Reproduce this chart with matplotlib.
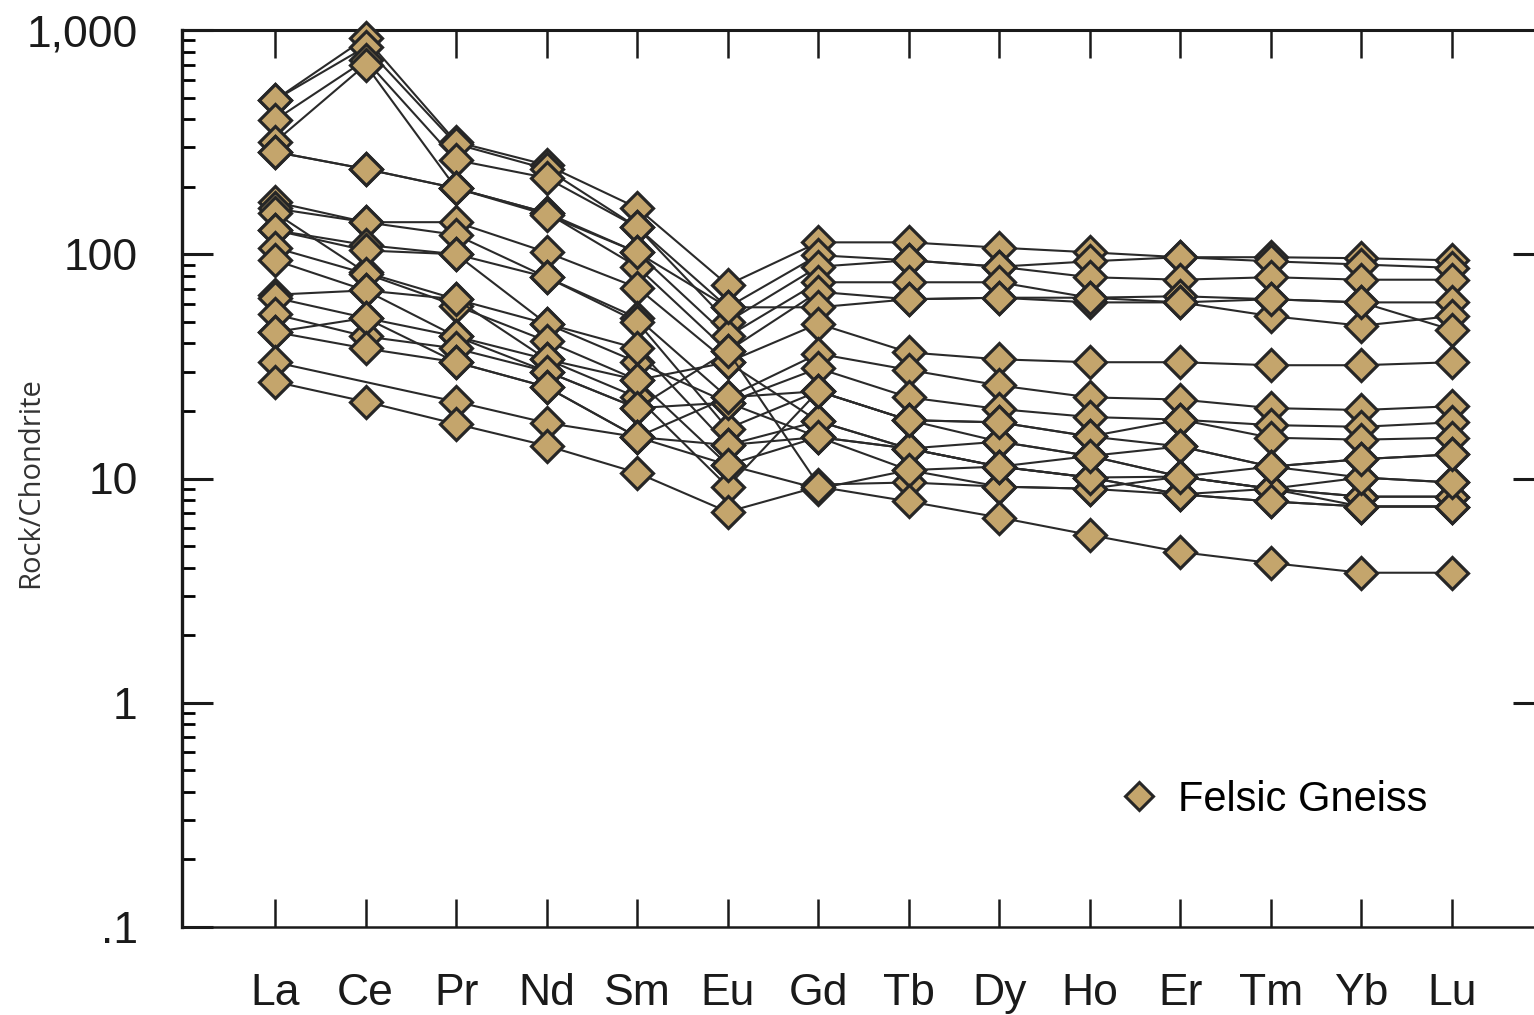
import numpy as np
import matplotlib
matplotlib.use("Agg")
import matplotlib.pyplot as plt
from matplotlib.lines import Line2D
from matplotlib.ticker import FixedLocator, LogLocator, NullFormatter, FixedFormatter, NullLocator

# Rare earth elements in order of atomic number
elements = ["La", "Ce", "Pr", "Nd", "Sm", "Eu", "Gd", "Tb", "Dy", "Ho", "Er", "Tm", "Yb", "Lu"]

# Decade labels for the log axis
y_ticks = [0.1, 1, 10, 100, 1000]
y_tick_labels = [".1", "1", "10", "100", "1,000"]

nan = np.nan

# Chondrite-normalised REE patterns of the felsic gneiss samples
fg01 = [488, 920, 317, 250, 161, 73, 113, 113, 107, 102, 97, 97, 96, 94]
fg02 = [488, 840, 310, 240, 132, 58, 99, 94, 88, 93, 97, 93, 90, 87]
fg03 = [397, 735, 263, 219, 132, 50, 88, 94, 88, 79, 77, 79, 77, 77]
fg04 = [317, 700, 197, 153, 102, 43, 75, 75, 75, 64, 65, 63, 61, 61]
fg05 = [286, 240, 197, 153, 88, 37, 68, 63, 64, 61, 61, 53, 48, 53]
fg06 = [286, 240, 197, 150, 102, 58, 58, 63, 64, 64, 61, 63, 61, 46]
fg07 = [171, 139, 139, 102, 71, 33, 49, 36.5, 34, 33, 33, 32, 32, 33]
fg08 = [160, 139, 122, 79, 52, 23, 36, 30.5, 26, 23, 22.5, 20.6, 20.2, 21]
fg09 = [153, 83, 63, 49, 33, 21.8, 31, 23, 20.4, 18.8, 18.3, 17.3, 17, 17.8]
fg10 = [128, 110, 100, 79, 50, 16.7, 24.5, 18.2, 17.8, 15.4, 18.3, 15.2, 14.9, 15.2]
fg11 = [128, 104, 100, 49, 38, 14.1, 18, 13.6, 14.6, 12.6, 13.9, 11.3, 12.2, 12.8]
fg12 = [107, 82, 59, 41, 27.5, 11.5, 15.3, 13.6, 11.3, 10.1, 10.2, 9.0, 10.1, 9.6]
fg13 = [94, 69, 63, 34, 23, 9.2, 24.5, 18.2, 14.6, 12.6, 10.2, 9.0, 8.3, 8.3]
fg14 = [66, 69, 43, 30, 20.6, 21.8, 15.3, 10.9, 9.2, 9.0, 8.5, 7.9, 7.5, 7.5]
fg15 = [64, 52, 43, 34, 27.5, 33, 18, 13.6, 11.3, 10.1, 8.5, 9.0, 8.3, 8.3]
fg16 = [54, 43, 38, 30, 20.6, 37, 9.4, 9.6, 9.2, 9.0, 10.2, 9.0, 7.5, 7.5]
fg17 = [45, 52, 33, 25.6, 15.3, 14.1, 15.3, 13.6, 11.3, 10.1, 8.5, 7.9, 7.5, 7.5]
fg18 = [45, 38, 33, 25.6, 15.3, 23, 24.5, 18.2, 17.8, 15.4, 13.9, 11.3, 10.1, 9.6]
fg19 = [33, nan, 22, 17.7, 15.3, 11.5, 9.0, 10.9, 11.3, 12.6, 10.2, 11.3, 12.2, 12.8]
fg20 = [27, 22, 17.5, 14, 10.6, 7.1, 9.2, 7.9, 6.7, 5.6, 4.7, 4.2, 3.8, 3.8]

samples = [fg01, fg02, fg03, fg04, fg05, fg06, fg07, fg08, fg09, fg10,
           fg11, fg12, fg13, fg14, fg15, fg16, fg17, fg18, fg19, fg20]

face = "#c4a56c"
edge = "#262626"
line_col = "#2a2a2a"

W, H = 1534, 1015
fig = plt.figure(figsize=(W / 100, H / 100), dpi=100)
left_px, right_px, top_px, bottom_px = 182, 1545, 30, 927
ax = fig.add_axes([left_px / W, 1 - bottom_px / H,
                   (right_px - left_px) / W, (bottom_px - top_px) / H])

x = np.arange(len(elements))
for s in samples:
    v = np.asarray(s, dtype=float)
    ok = ~np.isnan(v)
    ax.plot(x[ok], v[ok], color=line_col, lw=1.5, marker="D", ms=16, clip_on=False,
            mfc=face, mec=edge, mew=2.3, zorder=3)

ax.set_yscale("log")
ax.set_ylim(0.1, 1000)
pad_l = (275 - left_px) / 90.54
ax.set_xlim(-pad_l, 13 + (right_px - 1452) / 90.54)

# y axis: decade labels, log minor ticks on the left side
ax.yaxis.set_major_locator(FixedLocator(y_ticks))
ax.yaxis.set_major_formatter(FixedFormatter(y_tick_labels))
ax.yaxis.set_minor_locator(LogLocator(base=10, subs=np.arange(2, 10)))
ax.yaxis.set_minor_formatter(NullFormatter())
ax.tick_params(axis="y", which="major", direction="in", length=22, width=2.2,
               left=True, right=False, pad=32, labelsize=32, colors="#1a1a1a")
ax.tick_params(axis="y", which="minor", direction="in", length=9, width=2.0,
               left=True, right=False)

# x axis: element ticks on top and bottom, pointing inward
ax.set_xticks(x)
ax.set_xticklabels(elements)
ax.xaxis.set_minor_locator(NullLocator())
ax.tick_params(axis="x", which="major", direction="in", length=20, width=1.8,
               top=True, bottom=True, pad=33, labelsize=32, colors="#1a1a1a")

for lab in ax.get_xticklabels() + ax.get_yticklabels():
    lab.set_fontfamily("Liberation Sans")

for side, lw in (("left", 2.4), ("top", 2.2), ("bottom", 1.8), ("right", 2.2)):
    ax.spines[side].set_linewidth(lw)
    ax.spines[side].set_color("#1a1a1a")

# decade ticks along the right-hand side
ax_r = ax.twinx()
ax_r.set_yscale("log")
ax_r.set_ylim(0.1, 1000)
ax_r.yaxis.set_major_locator(FixedLocator([1, 10, 100]))
ax_r.yaxis.set_minor_locator(NullLocator())
ax_r.yaxis.set_major_formatter(NullFormatter())
ax_r.tick_params(axis="y", which="major", direction="in", length=23, width=2.2,
                 right=True, left=False, colors="#1a1a1a")
for sp in ax_r.spines.values():
    sp.set_visible(False)

fig.text(31 / W, 1 - 483 / H, "Rock/Chondrite", rotation=90, ha="center", va="center",
         fontsize=21, fontfamily="Open Sans", color="#333333")

handle = Line2D([], [], ls="none", marker="D", ms=14, mfc=face, mec=edge, mew=2.2)
ax.legend([handle], ["Felsic Gneiss"], loc="center left",
          bbox_to_anchor=((1118 - left_px) / (right_px - left_px), (927 - 800) / (927 - 30)),
          frameon=False, handlelength=1.0, handletextpad=0.45, borderpad=0, borderaxespad=0,
          prop={"family": "Liberation Sans", "size": 30})

fig.savefig("out.png", dpi=100)
